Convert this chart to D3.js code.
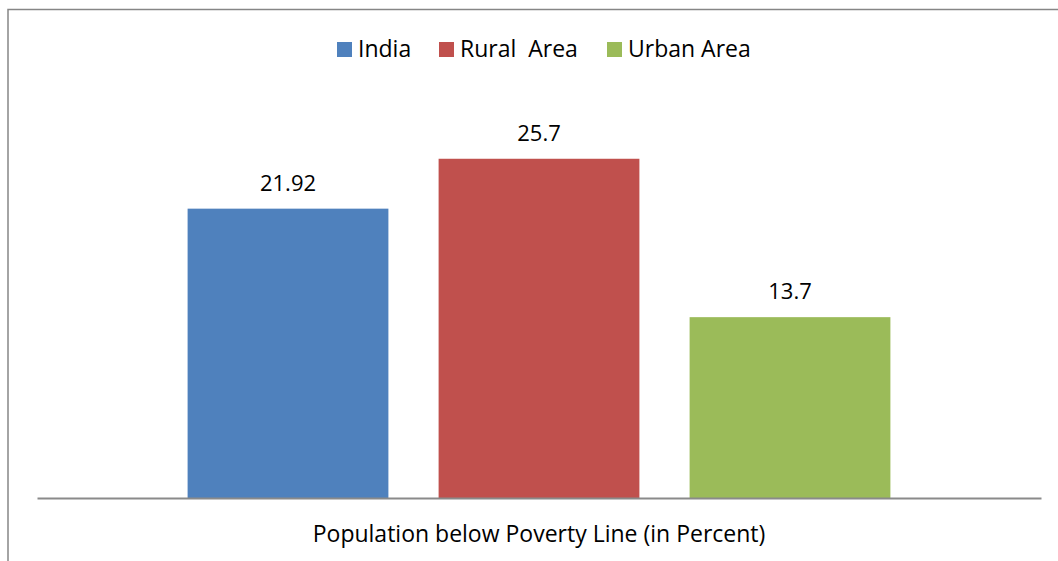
<!DOCTYPE html>
<html>
<head>
<meta charset="utf-8">
<script src="https://cdn.jsdelivr.net/npm/d3@7"></script>
<style>
  html, body { margin: 0; padding: 0; background: #fff; }
  svg { display: block; }
  text { font-family: "Open Sans", "Noto Sans", sans-serif; fill: #000; }
</style>
</head>
<body>
<svg id="chart" width="1058" height="561"></svg>
<script>
// Series drawn as bars within the single category
const seriesNames = ["India", "Rural  Area", "Urban Area"];
const seriesValues = [21.92, 25.7, 13.7];
const seriesColors = ["#4F81BD", "#C0504D", "#9BBB59"];
const categoryLabel = "Population below Poverty Line (in Percent)";
const yDomain = [0, 30];

const svg = d3.select("#chart");
const W = 1058, H = 561;

// Chart frame (extends past the right and bottom edges)
svg.append("rect")
  .attr("x", 8).attr("y", 9.5)
  .attr("width", W + 20).attr("height", H + 20)
  .attr("fill", "#fff")
  .attr("stroke", "#868686").attr("stroke-width", 1.5);

const plot = { left: 37, right: 1041, top: 102, bottom: 498 };

const data = seriesNames.map((name, i) => ({ name, value: seriesValues[i], color: seriesColors[i] }));

// Category occupies the whole plot width; bars take the middle with 150% gap width
const catWidth = plot.right - plot.left;
const groupWidth = catWidth / 2.5 * 1.75;   // three bars plus two 25% gaps
const groupLeft = plot.left + (catWidth - groupWidth) / 2;

const x = d3.scaleBand()
  .domain(seriesNames)
  .range([groupLeft, groupLeft + groupWidth])
  .paddingInner(0.2)
  .paddingOuter(0);

const y = d3.scaleLinear().domain(yDomain).range([plot.bottom, plot.top]);

// Bars
svg.append("g").selectAll("rect")
  .data(data)
  .join("rect")
  .attr("x", d => x(d.name))
  .attr("y", d => y(d.value))
  .attr("width", x.bandwidth())
  .attr("height", d => y(0) - y(d.value))
  .attr("fill", d => d.color);

// Value labels
svg.append("g").selectAll("text")
  .data(data)
  .join("text")
  .attr("x", d => x(d.name) + x.bandwidth() / 2)
  .attr("y", d => y(d.value) - 18)
  .attr("text-anchor", "middle")
  .attr("font-size", 22)
  .text(d => d.value);

// Category axis line and label
const xAxis = d3.axisBottom(d3.scaleBand().domain([categoryLabel]).range([plot.left, plot.right]))
  .tickSize(0).tickPadding(44).tickSizeOuter(0);
const axisG = svg.append("g")
  .attr("transform", `translate(0,${plot.bottom})`)
  .call(xAxis);
axisG.select(".domain").attr("stroke", "#8a8a8a").attr("stroke-width", 2);
axisG.selectAll(".tick text")
  .attr("font-family", "\"Open Sans\", sans-serif")
  .attr("font-size", 23)
  .attr("fill", "#000")
  .attr("dy", 0);

// Legend
const legendItems = [
  { sq: 337, tx: 358 },
  { sq: 439, tx: 460 },
  { sq: 607, tx: 628 }
];
const legend = svg.append("g");
data.forEach((d, i) => {
  legend.append("rect")
    .attr("x", legendItems[i].sq).attr("y", 42)
    .attr("width", 15).attr("height", 15)
    .attr("fill", d.color);
  legend.append("text")
    .attr("x", legendItems[i].tx).attr("y", 57)
    .attr("font-size", 23)
    .attr("xml:space", "preserve")
    .style("white-space", "pre")
    .text(d.name);
});
</script>
</body>
</html>
